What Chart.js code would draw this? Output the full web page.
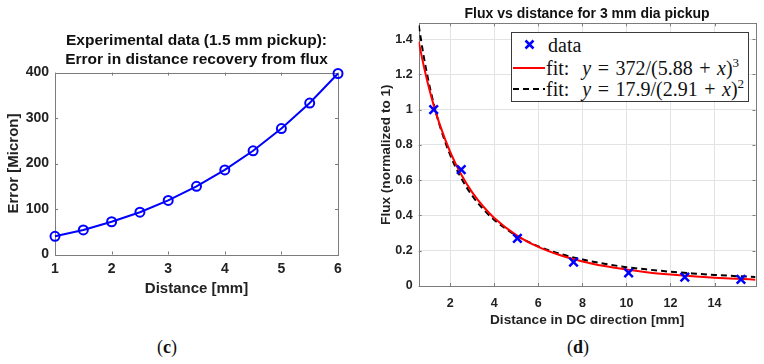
<!DOCTYPE html>
<html>
<head>
<meta charset="utf-8">
<script src="https://cdn.jsdelivr.net/npm/chart.js@4.4.1/dist/chart.umd.min.js"></script>
<style>
  html, body { margin: 0; padding: 0; background: #fff; }
  #page { position: relative; width: 764px; height: 364px; overflow: hidden; background: #fff; }
  canvas { position: absolute; top: 0; }
  #left { left: 0; }
  #right { left: 376px; }
  .cap { position: absolute; font-family: 'Liberation Serif', 'Times New Roman', serif; font-size: 18px; color: #111; transform: translate(-50%, -50%); }
  .cap b { font-weight: bold; }
  #legend { position: absolute; left: 511px; top: 32px; width: 238px; height: 70px; box-sizing: border-box;
            border: 1px solid #3a3a3a; background: #fff; font-family: 'Liberation Serif', 'Times New Roman', serif;
            font-size: 20px; color: #111; }
  #legend .row { position: absolute; left: 0; height: 22px; line-height: 22px; white-space: nowrap; }
  #legend svg { position: absolute; left: 0; top: 0; }
  #legend .txt { position: absolute; top: 0; word-spacing: 1.5px; }
  #legend sup { font-size: 13px; vertical-align: 8px; line-height: 0; }
</style>
</head>
<body>
<div id="page">
  <canvas id="left" width="376" height="310"></canvas>
  <canvas id="right" width="388" height="336"></canvas>
  <div id="legend">
    <div class="row" style="top:1px">
      <svg width="36" height="22"><path d="M13.5 6.5 L21.5 14.5 M21.5 6.5 L13.5 14.5" stroke="#0000ff" stroke-width="2.5"/></svg>
      <span class="txt" style="left:36px">data</span>
    </div>
    <div class="row" style="top:24px">
      <svg width="36" height="22"><path d="M1 11 L33 11" stroke="#ff0000" stroke-width="2"/></svg>
      <span class="txt" style="left:34px">fit:&nbsp; <i>y</i> = 372/(5.88 + <i>x</i>)<sup>3</sup></span>
    </div>
    <div class="row" style="top:45px">
      <svg width="36" height="22"><path d="M1 11 L33 11" stroke="#000" stroke-width="2" stroke-dasharray="6 4"/></svg>
      <span class="txt" style="left:34px">fit:&nbsp; <i>y</i> = 17.9/(2.91 + <i>x</i>)<sup>2</sup></span>
    </div>
  </div>
  <div class="cap" style="left:167px; top:347px">(<b>c</b>)</div>
  <div class="cap" style="left:578px; top:347px">(<b>d</b>)</div>
</div>
<script>
// ---- left panel: error in distance recovery ----
const errDistance = [1, 1.5, 2, 2.5, 3, 3.5, 4, 4.5, 5, 5.5, 6];
const errMicron = [40, 54, 72, 93, 119, 150, 186, 228, 277, 333, 398];
const errXTicks = [1, 2, 3, 4, 5, 6];
const errYTicks = [0, 100, 200, 300, 400];

// ---- right panel: flux vs distance ----
const fluxDistance = [1.25, 2.5, 5.05, 7.6, 10.1, 12.65, 15.2];
const fluxData = [1.0, 0.66, 0.27, 0.135, 0.075, 0.05, 0.037];
// fit curves
const fitX = [0.57, 0.8, 1, 1.25, 1.5, 2, 2.5, 3, 3.5, 4, 5, 6, 7, 8, 9, 10, 11, 12, 13, 14, 15, 15.86];
const fitCubic = [1.386, 1.248, 1.142, 1.026, 0.925, 0.760, 0.632, 0.531, 0.451, 0.386, 0.289, 0.222,
                  0.174, 0.139, 0.113, 0.093, 0.077, 0.065, 0.055, 0.047, 0.041, 0.036];
const fitSquare = [1.478, 1.301, 1.171, 1.034, 0.920, 0.743, 0.612, 0.512, 0.436, 0.375, 0.286, 0.225,
                   0.182, 0.150, 0.126, 0.107, 0.093, 0.081, 0.071, 0.063, 0.056, 0.051];
const fluxXTicks = [2, 4, 6, 8, 10, 12, 14];
const fluxYTicks = [0, 0.2, 0.4, 0.6, 0.8, 1, 1.2, 1.4];

const sans = "'Liberation Sans', Arial, Helvetica, sans-serif";
const axisGray = '#7c7c7c';
const textCol = '#222';

function pts(xs, ys) {
    return xs.map((x, i) => ({ x: x, y: ys[i] }));
}

// MATLAB style box with inward tick marks
const boxTicks = {
    id: 'boxTicks',
    beforeDatasetsDraw(chart, args, opts) {
        const { ctx, chartArea: a, scales: { x, y } } = chart;
        const len = opts.length || 3;
        ctx.save();
        ctx.strokeStyle = opts.color || axisGray;
        ctx.lineWidth = 1;
        ctx.beginPath();
        x.ticks.forEach(t => {
            const px = Math.round(x.getPixelForValue(t.value)) + 0.5;
            ctx.moveTo(px, a.bottom); ctx.lineTo(px, a.bottom - len);
            ctx.moveTo(px, a.top); ctx.lineTo(px, a.top + len);
        });
        y.ticks.forEach(t => {
            const py = Math.round(y.getPixelForValue(t.value)) + 0.5;
            ctx.moveTo(a.left, py); ctx.lineTo(a.left + len, py);
            ctx.moveTo(a.right, py); ctx.lineTo(a.right - len, py);
        });
        ctx.stroke();
        ctx.strokeRect(Math.round(a.left) + 0.5, Math.round(a.top) + 0.5,
                       Math.round(a.right - a.left), Math.round(a.bottom - a.top));
        ctx.restore();
    }
};

new Chart(document.getElementById('left'), {
    type: 'scatter',
    data: {
        datasets: [{
            data: pts(errDistance, errMicron),
            showLine: true,
            borderColor: '#0000ff',
            borderWidth: 2,
            pointRadius: 4.5,
            pointBorderWidth: 2,
            pointBorderColor: '#0000ff',
            pointBackgroundColor: 'rgba(0,0,0,0)',
            clip: false
        }]
    },
    options: {
        responsive: false,
        animation: false,
        events: [],
        layout: { padding: { left: 0, right: 38, top: 0, bottom: 0 } },
        plugins: {
            legend: { display: false },
            tooltip: { enabled: false },
            title: {
                display: true,
                fullSize: false,
                text: ['Experimental data (1.5 mm pickup):', 'Error in distance recovery from flux'],
                color: '#111',
                font: { family: sans, size: 15.5, weight: 'bold', lineHeight: 1.245 },
                padding: { top: 31, bottom: 3 }
            },
            boxTicks: { length: 3, color: axisGray }
        },
        scales: {
            x: {
                type: 'linear',
                min: 1, max: 6,
                afterBuildTicks: s => { s.ticks = errXTicks.map(v => ({ value: v })); },
                afterFit: s => { s.height = 55.5; },
                grid: { display: false, drawTicks: false },
                border: { display: false },
                ticks: { color: textCol, padding: 6, font: { family: sans, size: 14, weight: 'bold' } },
                title: { display: true, text: 'Distance [mm]', color: textCol,
                         font: { family: sans, size: 15, weight: 'bold', lineHeight: 1.2 },
                         padding: { top: 0, bottom: 12.5 } }
            },
            y: {
                type: 'linear',
                min: 0, max: 400,
                afterBuildTicks: s => { s.ticks = errYTicks.map(v => ({ value: v })); },
                afterFit: s => { s.width = 55; },
                grid: { display: false, drawTicks: false },
                border: { display: false },
                ticks: { color: textCol, padding: 6, font: { family: sans, size: 14, weight: 'bold' } },
                title: { display: true, text: 'Error [Micron]', color: textCol,
                         font: { family: sans, size: 15, weight: 'bold', lineHeight: 1.2 },
                         padding: { top: 5, bottom: 0 } }
            }
        }
    },
    plugins: [boxTicks]
});

new Chart(document.getElementById('right'), {
    type: 'scatter',
    data: {
        datasets: [{
            label: 'data',
            data: pts(fluxDistance, fluxData),
            pointStyle: 'crossRot',
            pointRadius: 6,
            pointBorderWidth: 2.5,
            pointBorderColor: '#0000ff',
            borderColor: '#0000ff'
        }, {
            label: 'fit cubic',
            data: pts(fitX, fitCubic),
            showLine: true,
            borderColor: '#ff0000',
            borderWidth: 2,
            pointRadius: 0,
            cubicInterpolationMode: 'monotone'
        }, {
            label: 'fit square',
            data: pts(fitX, fitSquare),
            showLine: true,
            borderColor: '#000',
            borderWidth: 2,
            borderDash: [6, 4],
            pointRadius: 0,
            cubicInterpolationMode: 'monotone'
        }]
    },
    options: {
        responsive: false,
        animation: false,
        events: [],
        layout: { padding: { left: 0, right: 6.3, top: 0, bottom: 0 } },
        plugins: {
            legend: { display: false },
            tooltip: { enabled: false },
            title: {
                display: true,
                fullSize: false,
                text: 'Flux vs distance for 3 mm dia pickup',
                color: '#111',
                font: { family: sans, size: 14, weight: 'bold', lineHeight: 1.2 },
                padding: { top: 5.6, bottom: 0.9 }
            },
            boxTicks: { length: 3, color: axisGray }
        },
        scales: {
            x: {
                type: 'linear',
                min: 0.57, max: 15.86,
                afterBuildTicks: s => { s.ticks = fluxXTicks.map(v => ({ value: v })); },
                afterFit: s => { s.height = 50; },
                grid: { color: '#e3e3e3', drawTicks: false },
                border: { display: false },
                ticks: { color: textCol, padding: 10, font: { family: sans, size: 12.5, weight: 'bold' } },
                title: { display: true, text: 'Distance in DC direction [mm]', color: textCol,
                         font: { family: sans, size: 13.6, weight: 'bold', lineHeight: 1.2 },
                         padding: { top: 0, bottom: 7.2 } }
            },
            y: {
                type: 'linear',
                min: 0, max: 1.49,
                afterBuildTicks: s => { s.ticks = fluxYTicks.map(v => ({ value: v })); },
                afterFit: s => { s.width = 42.7; },
                grid: { color: '#e3e3e3', drawTicks: false },
                border: { display: false },
                ticks: { color: textCol, padding: 6, font: { family: sans, size: 12.5, weight: 'bold' },
                         callback: v => String(v) },
                title: { display: true, text: 'Flux (normalized to 1)', color: textCol,
                         font: { family: sans, size: 13.6, weight: 'bold', lineHeight: 1.2 },
                         padding: { top: 2.4, bottom: 0 } }
            }
        }
    },
    plugins: [boxTicks]
});
</script>
</body>
</html>
